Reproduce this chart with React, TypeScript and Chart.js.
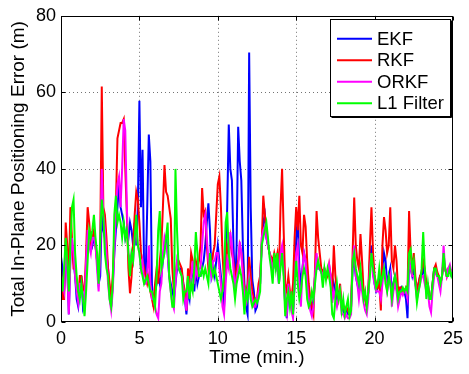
import React, { useEffect, useRef } from "react";
import { Chart, registerables } from "chart.js";

Chart.register(...registerables);

// Sampling step of the time axis (minutes); each row below covers one minute
const TIME_STEP = 0.1;

const EKF = [
  17, 14, 8, 18, 14, 2, 18, 20, 16, 12,
  6, 4, 8, 12, 4, 6, 14, 22, 22, 22,
  20, 22, 20, 16, 10, 12, 28, 24, 22, 18,
  14, 8, 4, 10, 18, 24, 30, 36, 30, 28,
  26, 22, 24, 22, 26, 24, 20, 26, 20, 30,
  57.8, 30, 45, 14, 12, 30, 49, 42, 10, 4,
  8, 10, 12, 10, 12, 16, 20, 22, 18, 12,
  10, 8, 6, 10, 14, 14, 14, 13, 10, 6,
  2, 8, 6, 12, 14, 8, 14, 10, 12, 12,
  14, 16, 20, 26, 31, 24, 12, 14, 12, 16,
  20, 16, 12, 8, 4, 14, 30, 51.6, 40, 37,
  20, 8, 20, 51, 42, 37, 20, 10, 4, 2,
  70.4, 30, 11, 8, 3, 4, 8, 10, 20, 26,
  28, 22, 20, 18, 16, 14, 16, 14, 16, 10,
  16, 20, 14, 4, 1, 8, 6, 4, 3, 10,
  22, 27, 14, 10, 14, 18, 16, 10, 6, 4,
  3, 6, 12, 16, 14, 14, 13, 12, 13, 12,
  12, 14, 12, 6, 10, 8, 6, 8, 8, 4,
  3, 2, 3, 2, 2, 4, 14, 16, 12, 10,
  8, 12, 10, 8, 6, 4, 8, 16, 20, 14,
  10, 8, 9, 12, 10, 12, 18, 16, 10, 12,
  14, 8, 10, 12, 10, 8, 8, 9, 8, 8,
  6, 1, 16, 14, 12, 14, 10, 8, 10, 12,
  12, 14, 12, 10, 10, 6, 6, 10, 14, 14,
  12, 12, 10, 12, 16, 14, 12, 13, 14, 12,
  12,
];

const RKF = [
  14, 6, 6, 26, 20, 12, 30, 22, 14, 14,
  10, 6, 12, 12, 9, 8, 18, 30, 26, 20,
  22, 24, 20, 16, 12, 20, 61.5, 30, 28, 22,
  14, 10, 6, 12, 22, 30, 48, 50, 52, 52,
  53, 40, 28, 14, 7.5, 12, 20, 28, 34, 32,
  26, 18, 16, 14, 12, 10, 12, 8, 6, 4,
  10, 14, 10, 16, 20, 30, 41, 34, 33, 30,
  27, 14, 8, 12, 16, 16, 15, 14, 10, 8,
  3, 14, 10, 18, 16, 12, 16, 14, 16, 20,
  35, 28, 29, 20, 14, 16, 14, 18, 20, 28,
  36, 38, 30, 18, 10, 12, 20, 18, 22, 18,
  16, 10, 14, 16, 20, 18, 14, 8, 7, 10,
  17, 12, 8, 6, 5, 6, 10, 12, 20, 33,
  28, 24, 20, 18, 17, 16, 18, 16, 18, 12,
  30, 40, 24, 10, 8, 12, 8, 6, 10, 22,
  30, 24, 33, 20, 18, 28, 25, 16, 10, 6,
  4, 2, 14, 29, 22, 18, 14, 13, 14, 13,
  12, 15, 12, 8, 20, 12, 8, 6, 10, 4,
  4, 3, 4, 3, 2, 4, 18, 32.5, 20, 16,
  14, 23, 16, 8, 6, 4, 8, 20, 30, 18,
  12, 10, 9, 10, 3, 20, 27.4, 24, 18, 20,
  30, 16, 14, 20, 16, 8, 9, 9, 8, 8,
  9, 8, 29, 18, 14, 18, 12, 8, 10, 12,
  13, 16, 14, 10, 10, 6, 6, 10, 14, 15,
  13, 12, 10, 12, 16, 14, 12, 14, 14, 13,
  12.5,
];

const ORKF = [
  12, 10, 8, 20, 14, 2, 16, 22, 18, 12,
  8, 5, 10, 10, 6, 4, 16, 24, 20, 18,
  22, 22, 20, 14, 8, 18, 40, 28, 24, 18,
  10, 6, 3, 8, 18, 30, 36, 38, 30, 40,
  53, 50, 30, 18, 16, 18, 16, 22, 24, 20,
  18, 14, 16, 10, 10, 12, 20, 10, 6, 6,
  4, 2, 1, 8, 10, 18, 22, 20, 18, 12,
  8, 5, 3.5, 10, 16, 14, 13, 12, 9, 6,
  3, 10, 8, 12, 16, 10, 14, 12, 14, 14,
  20, 26, 28, 22, 16, 14, 12, 16, 16, 18,
  18, 14, 10, 4, 2, 10, 16, 14, 23.5, 20,
  14, 8, 12, 14, 21, 18, 12, 6, 5, 8,
  12, 8, 6, 4, 4, 6, 8, 10, 22, 24,
  25, 22, 20, 18, 16, 14, 16, 14, 16, 10,
  18, 20, 14, 4, 2, 10, 6, 3, 1, 10,
  18, 20, 10, 4, 14, 18, 16, 10, 6, 3,
  1.5, 4, 12, 18, 14, 14, 13, 12, 14, 12,
  13, 15, 12, 5, 8, 6, 4, 6, 8, 2,
  2, 1, 2, 1, 1, 2, 16, 20, 12, 10,
  6, 10, 8, 5, 3, 2, 6, 14, 18, 12,
  10, 8, 8, 8, 6, 10, 14, 12, 8, 10,
  12, 4, 8, 10, 8, 4, 6, 8, 7, 8,
  8, 6, 16, 14, 12, 12, 10, 6, 8, 10,
  12, 12, 10, 8, 8, 4, 2.5, 8, 12, 13,
  12, 10, 8, 12, 20, 14, 12, 14, 15, 13,
  13,
];

const L1_FILTER = [
  12, 8, 14, 22, 16, 8, 20, 30, 32, 18,
  12, 8, 6, 10, 6, 1.5, 8, 16, 24, 22,
  24, 28, 22, 18, 10, 22, 32, 28, 18, 14,
  12, 6, 4, 10, 28, 33, 26, 28, 26, 22,
  26, 22, 24, 18, 12, 18, 16, 22, 28, 20,
  18, 14, 12, 10, 11, 12, 10, 8, 8, 6,
  4, 12, 24, 29, 14, 16, 18, 22, 26, 12,
  8, 4, 4, 40, 24, 14, 13, 12, 6, 8,
  8, 12, 6, 10, 8, 14, 23.5, 18, 12, 12,
  14, 12, 14, 12, 10, 18, 14, 12, 14, 12,
  10, 8, 6, 8, 12, 26, 28.7, 18, 14, 12,
  10, 6, 10, 12, 14, 12, 8, 2, 8, 6,
  10, 6, 4, 5, 6, 5, 6, 8, 20, 22,
  24, 26, 22, 17, 14, 10, 18, 14, 18, 10,
  14, 18, 12, 1.5, 6, 8, 4, 8, 2, 10,
  16, 10, 6, 8, 12, 14, 12, 6, 4, 5,
  8, 6, 10, 14, 16, 14, 13, 9, 14, 11,
  14, 12, 9, 2, 1, 6, 10, 6, 8, 3,
  6, 2, 4, 6, 1.5, 3, 16, 18, 14, 12,
  10, 14, 10, 6, 8, 4, 8, 12, 18, 14,
  12, 9, 10, 14, 10, 12, 14, 10, 8, 12,
  10, 6, 10, 12, 10, 6, 8, 8, 9, 8,
  9, 8, 18, 19, 14, 16, 10, 5, 8, 10,
  14, 23.5, 14, 6, 10, 6, 6, 10, 14, 14,
  12, 12, 10, 12, 18, 14, 12, 12, 14, 12,
  13,
];

const SERIES_LABELS = ["EKF", "RKF", "ORKF", "L1 Filter"];
const X_TICKS = [0, 5, 10, 15, 20, 25];
const Y_TICKS = [0, 20, 40, 60, 80];
const X_TITLE = "Time (min.)";
const Y_TITLE = "Total In-Plane Positioning Error (m)";

const COLORS = ["#0000ff", "#ff0000", "#ff00ff", "#00ff00"];
const FONT = "'Liberation Sans', Arial, Helvetica, sans-serif";

const toPoints = (vals: number[]) =>
  vals.map((y, i) => ({ x: Math.round(i * TIME_STEP * 100) / 100, y }));

const decorPlugin = {
  id: "decor",
  beforeDatasetsDraw(chart: any) {
    const { ctx, chartArea: a, scales } = chart;
    const x = scales.x;
    const y = scales.y;
    ctx.save();
    ctx.strokeStyle = "rgba(0,0,0,0.55)";
    ctx.lineWidth = 1;
    ctx.setLineDash([1, 3]);
    for (const v of X_TICKS.slice(1, -1)) {
      const px = Math.round(x.getPixelForValue(v)) + 0.5;
      ctx.beginPath();
      ctx.moveTo(px, a.top);
      ctx.lineTo(px, a.bottom);
      ctx.stroke();
    }
    for (const v of Y_TICKS.slice(1, -1)) {
      const py = Math.round(y.getPixelForValue(v)) + 0.5;
      ctx.beginPath();
      ctx.moveTo(a.left, py);
      ctx.lineTo(a.right, py);
      ctx.stroke();
    }
    ctx.restore();
  },
  afterDatasetsDraw(chart: any) {
    const { ctx, chartArea: a, scales } = chart;
    const x = scales.x;
    const y = scales.y;
    ctx.save();
    ctx.strokeStyle = "#000";
    ctx.lineWidth = 1;
    ctx.setLineDash([]);
    const L = Math.round(a.left) + 0.5;
    const R = Math.round(a.right) - 0.5;
    const T = Math.round(a.top) + 0.5;
    const B = Math.round(a.bottom) - 0.5;
    ctx.strokeRect(L, T, R - L, B - T);
    const tl = 4;
    for (const v of X_TICKS) {
      const px = Math.round(x.getPixelForValue(v)) + 0.5;
      ctx.beginPath();
      ctx.moveTo(px, B);
      ctx.lineTo(px, B - tl);
      ctx.moveTo(px, T);
      ctx.lineTo(px, T + tl);
      ctx.stroke();
    }
    for (const v of Y_TICKS) {
      const py = Math.round(y.getPixelForValue(v)) + 0.5;
      ctx.beginPath();
      ctx.moveTo(L, py);
      ctx.lineTo(L + tl, py);
      ctx.moveTo(R, py);
      ctx.lineTo(R - tl, py);
      ctx.stroke();
    }

    // Legend box (inside the plot, top-right)
    const bx = 330.5;
    const by = 19.5;
    const bw = 120;
    const bh = 97;
    ctx.fillStyle = "#fff";
    ctx.fillRect(bx, by, bw, bh);
    ctx.strokeRect(bx, by, bw, bh);
    ctx.beginPath();
    ctx.moveTo(bx + 1, by + bh + 1);
    ctx.lineTo(bx + bw + 1, by + bh + 1);
    ctx.lineTo(bx + bw + 1, by + 1);
    ctx.stroke();
    ctx.font = `18.5px ${FONT}`;
    ctx.textBaseline = "middle";
    ctx.textAlign = "left";
    SERIES_LABELS.forEach((label, i) => {
      const iy = 38.7 + i * 21.5;
      ctx.strokeStyle = COLORS[i];
      ctx.lineWidth = 2;
      ctx.beginPath();
      ctx.moveTo(337, iy);
      ctx.lineTo(372, iy);
      ctx.stroke();
      ctx.fillStyle = "#000";
      ctx.fillText(label, 377, iy + 1);
    });
    ctx.restore();
  },
};

export default function App() {
  const canvasRef = useRef<HTMLCanvasElement | null>(null);

  useEffect(() => {
    if (!canvasRef.current) return;
    const seriesValues = [EKF, RKF, ORKF, L1_FILTER];
    const chart = new Chart(canvasRef.current, {
      type: "line",
      data: {
        datasets: seriesValues.map((vals, i) => ({
          label: SERIES_LABELS[i],
          data: toPoints(vals),
          borderColor: COLORS[i],
          backgroundColor: COLORS[i],
          borderWidth: 2,
          pointRadius: 0,
          tension: 0,
          fill: false,
          order: 4 - i,
        })),
      },
      options: {
        responsive: false,
        animation: false,
        devicePixelRatio: 1,
        layout: { padding: { top: 14, right: 11, left: 0, bottom: 0 } },
        plugins: {
          legend: { display: false },
          tooltip: { enabled: false },
        },
        scales: {
          x: {
            type: "linear",
            min: 0,
            max: 25,
            afterBuildTicks: (s: any) => {
              s.ticks = X_TICKS.map((v) => ({ value: v }));
            },
            afterFit: (s: any) => {
              s.height = 52;
            },
            grid: { display: false, drawTicks: false },
            border: { display: false },
            ticks: {
              color: "#000",
              font: { family: FONT, size: 18 },
              padding: 6,
              maxRotation: 0,
              autoSkip: false,
            },
            title: {
              display: true,
              text: X_TITLE,
              color: "#000",
              font: { family: FONT, size: 19 },
              padding: { top: 0, bottom: 5 },
            },
          },
          y: {
            type: "linear",
            min: 0,
            max: 80,
            afterBuildTicks: (s: any) => {
              s.ticks = Y_TICKS.map((v) => ({ value: v }));
            },
            afterFit: (s: any) => {
              s.width = 61;
            },
            grid: { display: false, drawTicks: false },
            border: { display: false },
            ticks: {
              color: "#000",
              font: { family: FONT, size: 18 },
              padding: 5,
              autoSkip: false,
            },
            title: {
              display: true,
              text: Y_TITLE,
              color: "#000",
              font: { family: FONT, size: 19 },
              padding: { top: 7, bottom: 0 },
            },
          },
        },
      },
      plugins: [decorPlugin],
    });
    return () => chart.destroy();
  }, []);

  return (
    <div style={{ position: "fixed", left: 0, top: 0, width: 469, height: 374, background: "#fff" }}>
      <canvas ref={canvasRef} width={469} height={374} style={{ display: "block" }} />
    </div>
  );
}
